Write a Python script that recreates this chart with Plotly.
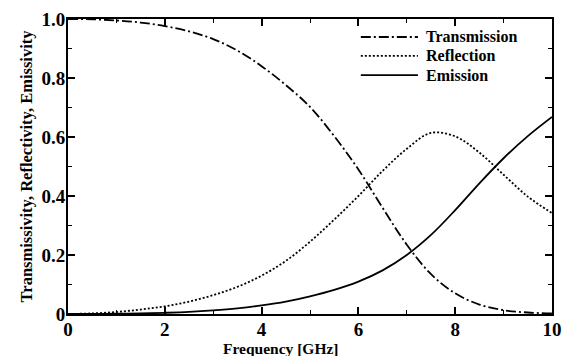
import plotly.graph_objects as go

freq = [0, 0.5, 1, 1.5, 2, 2.5, 3, 3.5, 4, 4.5, 5, 5.5, 6, 6.5, 7, 7.5, 8, 8.5, 9, 9.5, 10]
transmission = [1.0, 0.999, 0.995, 0.988, 0.976, 0.958, 0.932, 0.893, 0.84, 0.776, 0.702, 0.603, 0.49, 0.36, 0.235, 0.135, 0.07, 0.032, 0.013, 0.005, 0.002]
reflection = [0.0, 0.002, 0.007, 0.015, 0.026, 0.042, 0.064, 0.092, 0.13, 0.18, 0.245, 0.32, 0.40, 0.485, 0.56, 0.614, 0.602, 0.547, 0.472, 0.398, 0.342]
emission = [0.0, 0.0, 0.001, 0.002, 0.004, 0.007, 0.012, 0.019, 0.029, 0.042, 0.06, 0.082, 0.11, 0.148, 0.2, 0.268, 0.352, 0.443, 0.528, 0.603, 0.668]

series_names = ["Transmission", "Reflection", "Emission"]
series_dash = ["10px,3px,2px,3px", "2px,2px", "solid"]

font_family = "Liberation Serif"

fig = go.Figure()
for name, ys, dash in zip(series_names, [transmission, reflection, emission], series_dash):
    fig.add_trace(go.Scatter(x=freq, y=ys, name=name, mode="lines", showlegend=False,
                             line=dict(color="black", width=1.8, dash=dash, shape="spline", smoothing=1.0)))

# custom legend (paper coordinates of the plot area)
leg_rows = [0.939, 0.875, 0.81]
for name, dash, yy in zip(series_names, series_dash, leg_rows):
    fig.add_shape(type="line", xref="paper", yref="paper", x0=0.605, x1=0.723, y0=yy, y1=yy,
                  line=dict(color="black", width=1.8, dash=dash))
    fig.add_annotation(xref="paper", yref="paper", x=0.735, y=yy, text=name, showarrow=False,
                       xanchor="left", yanchor="middle",
                       font=dict(family=font_family, size=16, color="black", weight="bold"))

axis_common = dict(
    showgrid=False, zeroline=False, showline=True, linecolor="black", linewidth=2,
    mirror="ticks", ticks="inside", ticklen=7, tickwidth=1.5, tickcolor="black",
    tickfont=dict(family=font_family, size=19, color="black", weight="bold"),
)

fig.update_xaxes(
    range=[0, 10], tickvals=[0, 2, 4, 6, 8, 10], ticktext=["0", "2", "4", "6", "8", "10"],
    minor=dict(ticks="inside", ticklen=4, tickwidth=1.2, tickcolor="black", dtick=1),
    ticklabelstandoff=-3,
    **axis_common,
)
fig.update_yaxes(
    range=[0, 1.0], tickvals=[0, 0.2, 0.4, 0.6, 0.8, 1.0], ticktext=["0", "0.2", "0.4", "0.6", "0.8", "1.0"],
    minor=dict(ticks="inside", ticklen=4, tickwidth=1.2, tickcolor="black", dtick=0.1),
    ticklabelstandoff=-3,
    title=dict(text="Transmissivity, Reflectivity, Emissivity",
               font=dict(family=font_family, size=16.5, color="black", weight="bold"), standoff=5),
    **axis_common,
)

fig.add_annotation(xref="paper", yref="paper", x=0.44, y=-0.117, text="Frequency [GHz]", showarrow=False,
                   xanchor="center", yanchor="middle",
                   font=dict(family=font_family, size=15.5, color="black", weight="bold"))

fig.update_layout(
    width=570, height=356,
    margin=dict(l=68, r=8, t=19, b=42),
    plot_bgcolor="white", paper_bgcolor="white",
    showlegend=False,
)

fig.write_html("out.html")
